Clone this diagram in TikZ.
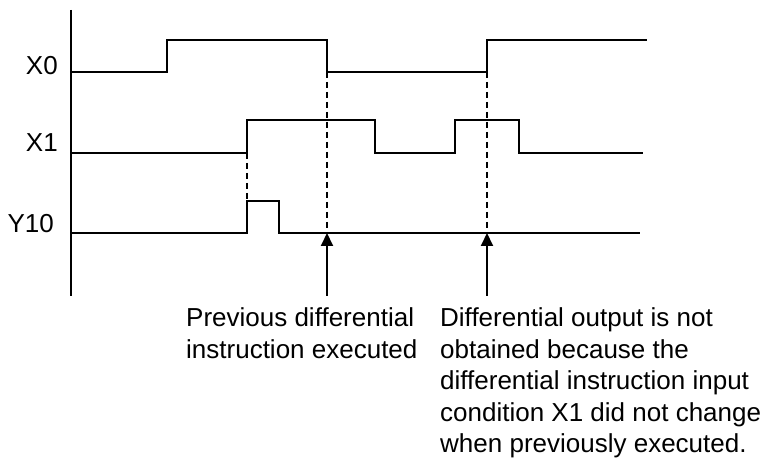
\documentclass[tikz,border=0pt]{standalone}
\usepackage{fontspec}
\setmainfont{Liberation Sans}
\usetikzlibrary{arrows.meta}

\begin{document}
\begin{tikzpicture}[x=1pt,y=-1pt,
      sig/.style={line width=2pt, line cap=butt},
      guia/.style={line width=2pt, dash pattern=on 6pt off 4pt},
      flecha/.style={line width=2pt, -{Triangle[length=13pt,width=12pt]}},
      lbl/.style={anchor=base east, inner sep=0pt, font=\fontsize{26}{31.5}\selectfont},
      nota/.style={anchor=base west, inner sep=0pt, align=left,
                   font=\fontsize{26}{31.5}\selectfont}]
    \useasboundingbox (0,0) rectangle (772,462);
    % eje
    \coordinate (ejeA) at (71,10);
    \coordinate (ejeB) at (71,296);
    \draw[sig] (ejeA) -- (ejeB);
    % senales
    \node[lbl] (x0) at (58,75) {X0};
    \node[lbl] (x1) at (58,152) {X1};
    \node[lbl] (y10) at (54,233) {Y10};
    \draw[sig] (71,72) -| (167,40) -| (327,72) -| (487,40) -- (647,40);
    \draw[sig] (71,153) -| (247,120) -| (375,153) -| (455,120) -| (519,153) -- (643,153);
    \draw[sig] (71,233) -| (247,201) -| (279,233) -- (640,233);
    % guias
    \coordinate (g1a) at (247,153); \coordinate (g1b) at (247,201);
    \coordinate (g2a) at (327,72);  \coordinate (g2b) at (327,233);
    \coordinate (g3a) at (487,72);  \coordinate (g3b) at (487,233);
    \foreach \n in {g1,g2,g3} {\draw[guia] (\n a) -- (\n b);}
    % flechas
    \coordinate (f2) at (327,296);
    \coordinate (f3) at (487,296);
    \foreach \n in {2,3} {\draw[flecha] (f\n) -- (g\n b);}
    % notas (base = ultima linea)
    \node[nota] (prev) at (186,358.5) {Previous differential\\instruction executed};
    \node[nota] (nochg) at (440,453) {Differential output is not\\obtained because the\\differential instruction input\\condition X1 did not change\\when previously executed.};
  \end{tikzpicture}
\end{document}
